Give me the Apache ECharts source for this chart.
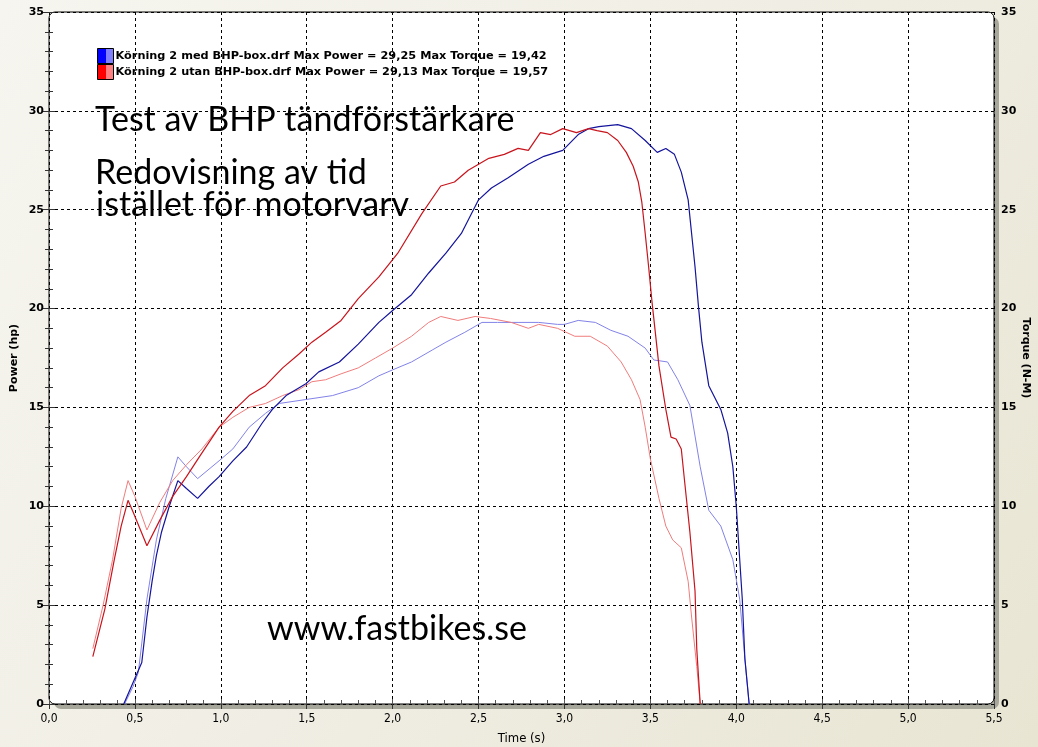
<!DOCTYPE html>
<html>
<head>
<meta charset="utf-8">
<script src="https://cdn.jsdelivr.net/npm/echarts@6/dist/echarts.min.js"></script>
<style>html,body{margin:0;padding:0;}#chart{width:1038px;height:747px;}</style>
</head>
<body>
<div id="chart"></div>
<script>
// ---- data ----
const xTicks = ['0,0','0,5','1,0','1,5','2,0','2,5','3,0','3,5','4,0','4,5','5,0','5,5'];
const legendLabels = [
  'Körning 2 med BHP-box.drf Max Power = 29,25 Max Torque = 19,42',
  'Körning 2 utan BHP-box.drf Max Power = 29,13 Max Torque = 19,57'
];
const annotations = ['Test av BHP tändförstärkare', 'Redovisning av tid', 'istället för motorvarv', 'www.fastbikes.se'];

const medPowerT = [0.435,0.49,0.54,0.57,0.60,0.625,0.655,0.70,0.75,0.80,0.865,0.93,0.99,1.07,1.15,1.24,1.30,1.38,1.495,1.57,1.69,1.80,1.92,2.0,2.11,2.21,2.31,2.40,2.50,2.575,2.67,2.79,2.88,2.99,3.08,3.14,3.20,3.31,3.39,3.47,3.54,3.59,3.64,3.68,3.72,3.74,3.76,3.78,3.80,3.84,3.91,3.95,3.98,4.0,4.035,4.05,4.075];
const medPowerV = [0,1.1,2.1,4.4,6.2,7.5,8.7,10.0,11.3,10.9,10.4,11.0,11.5,12.3,13.0,14.2,14.9,15.6,16.2,16.8,17.3,18.2,19.3,19.9,20.7,21.8,22.8,23.8,25.5,26.1,26.6,27.3,27.7,28.0,28.8,29.1,29.2,29.3,29.1,28.5,27.9,28.1,27.8,26.9,25.5,23.8,22.1,20.1,18.3,16.1,14.9,13.7,12.0,10.0,5.3,2.3,0];

const medTorqueT = [0.44,0.49,0.52,0.57,0.625,0.68,0.75,0.80,0.865,0.99,1.07,1.165,1.26,1.34,1.495,1.65,1.80,1.92,2.0,2.11,2.23,2.31,2.42,2.52,2.61,2.73,2.85,2.96,3.0,3.08,3.18,3.27,3.37,3.47,3.52,3.60,3.66,3.73,3.79,3.84,3.91,3.98,4.02,4.05,4.075];
const medTorqueV = [0,0.9,1.6,5.3,8.3,10.4,12.5,12.0,11.4,12.3,12.9,14.0,14.7,15.2,15.4,15.6,16.0,16.6,16.9,17.3,17.9,18.3,18.8,19.3,19.3,19.3,19.3,19.2,19.2,19.4,19.3,18.9,18.6,18.0,17.4,17.3,16.4,15.1,12.0,9.8,9.0,7.3,5.3,2.3,0];

const utanPowerT = [0.255,0.325,0.38,0.42,0.46,0.49,0.57,0.645,0.72,0.80,0.875,0.99,1.07,1.165,1.26,1.36,1.455,1.53,1.61,1.70,1.80,1.92,2.03,2.17,2.28,2.36,2.44,2.56,2.65,2.73,2.79,2.86,2.92,2.99,3.07,3.14,3.19,3.25,3.31,3.36,3.40,3.43,3.45,3.47,3.49,3.51,3.55,3.59,3.62,3.65,3.68,3.70,3.73,3.76,3.77,3.79];
const utanPowerV = [2.4,4.8,7.3,9.0,10.3,9.7,8.0,9.3,10.5,11.5,12.5,14.0,14.8,15.6,16.1,17.0,17.7,18.3,18.8,19.4,20.5,21.6,22.8,24.8,26.2,26.4,27.0,27.6,27.8,28.1,28.0,28.9,28.8,29.1,28.9,29.1,29.0,28.9,28.5,27.9,27.2,26.4,25.4,23.8,22.1,20.3,17.1,14.9,13.5,13.4,12.9,11.2,8.7,5.7,2.8,0];

const utanTorqueT = [0.255,0.315,0.37,0.42,0.46,0.50,0.57,0.645,0.72,0.80,0.89,0.99,1.07,1.165,1.26,1.36,1.455,1.53,1.61,1.70,1.80,1.90,2.0,2.11,2.21,2.28,2.38,2.48,2.57,2.69,2.79,2.85,2.96,3.06,3.15,3.25,3.33,3.39,3.44,3.47,3.50,3.55,3.59,3.63,3.68,3.72,3.74,3.77,3.79];
const utanTorqueV = [2.8,5.0,7.3,9.9,11.3,10.5,8.8,10.2,11.3,12.1,12.9,14.0,14.5,15.0,15.2,15.6,15.9,16.3,16.4,16.7,17.0,17.5,18.0,18.6,19.3,19.6,19.4,19.6,19.5,19.3,19.0,19.2,19.0,18.6,18.6,18.1,17.3,16.4,15.4,14.0,12.4,10.4,9.0,8.3,7.9,6.2,4.4,1.9,0];

// ---- chart ----
const pairs = (t, v) => t.map((x, i) => [x, v[i]]);
const DB = '#14149c', LB = '#8282e8', DR = '#c8141c', LR = '#f07c7c';
const G = {left: 49, top: 12, width: 945, height: 692};

const chart = echarts.init(document.getElementById('chart'));
const yLabel = {fontFamily: 'DejaVu Sans', fontWeight: 'bold', fontSize: 11, color: '#000'};
const xLabelFont = "'Liberation Sans Narrow', 'DejaVu Sans Condensed', sans-serif";
const swatch = (d, l) => ({type: 'linear', x: 0, y: 0, x2: 1, y2: 0, colorStops: [
  {offset: 0, color: d}, {offset: 0.5, color: d}, {offset: 0.5, color: l}, {offset: 1, color: l}]});
const bigFont = "34px Lato, 'Open Sans', sans-serif";

chart.setOption({
  animation: false,
  backgroundColor: '#ece9d8',
  graphic: [
    {type: 'rect', z: -30, shape: {x: 0, y: 0, width: 1038, height: 747},
     style: {fill: {type: 'linear', x: 0, y: 0, x2: 1, y2: 1, colorStops: [
       {offset: 0, color: '#f6f5ef'}, {offset: 0.5, color: '#f0eee4'}, {offset: 1, color: '#e8e5d3'}]}}},
    {type: 'rect', z: -20, shape: {x: G.left + 5, y: G.top + 5, width: G.width, height: G.height, r: 7},
     style: {fill: '#a8a79c'}},
    {type: 'rect', z: -10, shape: {x: G.left, y: G.top, width: G.width, height: G.height, r: 6},
     style: {fill: '#ffffff', stroke: '#000', lineWidth: 1}},
    {type: 'text', z: 10, x: 95, y: 103, style: {text: annotations[0], font: bigFont, fill: '#000'}},
    {type: 'text', z: 10, x: 95, y: 156, style: {text: annotations[1], font: bigFont, fill: '#000'}},
    {type: 'text', z: 10, x: 96, y: 188, style: {text: annotations[2], font: bigFont, fill: '#000'}},
    {type: 'text', z: 10, x: 267, y: 612, style: {text: annotations[3], font: bigFont, fill: '#000'}}
  ],
  legend: {
    orient: 'vertical', left: 97, top: 48, padding: 0, itemGap: 0, itemWidth: 16, itemHeight: 15,
    selectedMode: false, icon: 'rect',
    textStyle: {fontFamily: 'DejaVu Sans', fontWeight: 'bold', fontSize: 11.3, color: '#000', padding: [0, 0, 0, -3]},
    data: [
      {name: legendLabels[0], itemStyle: {color: swatch('#0000ff', '#8080ff'), borderColor: '#000', borderWidth: 1}},
      {name: legendLabels[1], itemStyle: {color: swatch('#ff0000', '#ff8080'), borderColor: '#000', borderWidth: 1}}
    ]
  },
  grid: {left: G.left, top: G.top, width: G.width, height: G.height, show: false,
         containLabel: false, outerBoundsMode: 'none'},
  xAxis: [{
    type: 'value', min: 0, max: 5.5, interval: 0.5,
    name: 'Time (s)', nameLocation: 'middle', nameGap: 28, nameMoveOverlap: false,
    nameTextStyle: {fontFamily: xLabelFont, fontSize: 13, color: '#000'},
    axisLine: {show: false},
    axisTick: {show: true, inside: true, length: 5, lineStyle: {color: '#555'}},
    minorTick: {show: true, splitNumber: 5, length: 4, lineStyle: {color: '#555'}},
    axisLabel: {margin: 9, fontFamily: xLabelFont, fontSize: 12, color: '#000',
      formatter: v => xTicks[Math.round(v / 0.5)]},
    splitLine: {show: true, lineStyle: {color: '#000', type: [3, 3], width: 1}}
  }, {
    type: 'value', min: 0, max: 5.5, interval: 0.5, position: 'top',
    axisLine: {show: false}, axisLabel: {show: false}, splitLine: {show: false},
    axisTick: {show: true, inside: true, length: 5, lineStyle: {color: '#333'}}
  }],
  yAxis: [{
    type: 'value', min: 0, max: 35, interval: 5, position: 'left',
    name: 'Power (hp)', nameLocation: 'middle', nameGap: 29, nameRotate: 90, nameMoveOverlap: false,
    nameTextStyle: yLabel,
    axisLine: {show: false},
    axisTick: {show: true, inside: true, length: 6, lineStyle: {color: '#333'}},
    minorTick: {show: true, splitNumber: 5, length: 4, lineStyle: {color: '#333'}},
    axisLabel: Object.assign({margin: 5}, yLabel),
    splitLine: {show: true, lineStyle: {color: '#000', type: [3, 3], width: 1}}
  }, {
    type: 'value', min: 0, max: 35, interval: 5, position: 'right',
    name: 'Torque (N-M)', nameLocation: 'middle', nameGap: 26, nameRotate: -90, nameMoveOverlap: false,
    nameTextStyle: yLabel,
    axisLine: {show: false},
    axisTick: {show: true, inside: true, length: 6, lineStyle: {color: '#333'}},
    minorTick: {show: true, splitNumber: 5, length: 4, lineStyle: {color: '#333'}},
    axisLabel: Object.assign({margin: 7}, yLabel),
    splitLine: {show: false}
  }],
  series: [
    {name: 'Torque med', type: 'line', yAxisIndex: 1, data: pairs(medTorqueT, medTorqueV), showSymbol: false, lineStyle: {color: LB, width: 1}, itemStyle: {color: LB}},
    {name: 'Torque utan', type: 'line', yAxisIndex: 1, data: pairs(utanTorqueT, utanTorqueV), showSymbol: false, lineStyle: {color: LR, width: 1}, itemStyle: {color: LR}},
    {name: legendLabels[0], type: 'line', data: pairs(medPowerT, medPowerV), showSymbol: false, lineStyle: {color: DB, width: 1.2}, itemStyle: {color: DB}},
    {name: legendLabels[1], type: 'line', data: pairs(utanPowerT, utanPowerV), showSymbol: false, lineStyle: {color: DR, width: 1.2}, itemStyle: {color: DR}}
  ]
});
</script>
</body>
</html>
